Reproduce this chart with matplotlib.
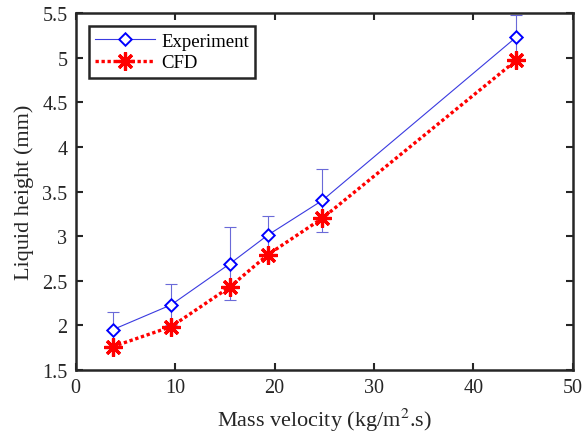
import numpy as np
import matplotlib.pyplot as plt

# -----------------------------
# Data
# -----------------------------
mass_velocity = [3.7, 9.6, 15.5, 19.3, 24.8, 44.3]
exp_height = [1.95, 2.23, 2.69, 3.01, 3.40, 5.23]
exp_err = [0.20, 0.23, 0.41, 0.22, 0.35, 0.25]
cfd_height = [1.76, 1.985, 2.43, 2.79, 3.20, 4.97]

xticks = [0, 10, 20, 30, 40, 50]
yticks = [1.5, 2, 2.5, 3, 3.5, 4, 4.5, 5, 5.5]
yticklabels = ["1.5", "2", "2.5", "3", "3.5", "4", "4.5", "5", "5.5"]

plt.rcParams['font.family'] = ['Liberation Serif', 'DejaVu Serif']
plt.rcParams['mathtext.fontset'] = 'stix'

fig = plt.figure(figsize=(5.87, 4.39), dpi=100)
ax = fig.add_axes([0.129, 0.155, 0.847, 0.813])

# Experiment with error bars
ax.errorbar(mass_velocity, exp_height, yerr=exp_err, fmt="none",
            ecolor="#6a6ad8", elinewidth=0.8, capsize=4, capthick=0.8)
ax.plot(mass_velocity, exp_height, color="#3a3ae0", linewidth=0.8,
        marker=(4, 0, 0), markersize=9, markerfacecolor="white",
        markeredgecolor="blue", markeredgewidth=1.4, label="Experiment")

# CFD
ax.plot(mass_velocity, cfd_height, color="red", linewidth=2.4, linestyle=(0, (1, 0.8)),
        marker=(8, 2, 0), markersize=13, markeredgecolor="red",
        markeredgewidth=2.3, label="CFD")

ax.set_xlim(0, 50)
ax.set_ylim(1.5, 5.5)
ax.set_xticks(xticks)
ax.set_yticks(yticks)
ax.set_yticklabels(yticklabels)
ax.tick_params(direction="in", top=True, right=True, labelsize=14.5, pad=6,
               length=5, width=1.5, colors="#262626")
for s in ax.spines.values():
    s.set_linewidth(1.8)
    s.set_color("#262626")

ax.set_xlabel("Mass velocity (kg/m$^2$.s)", fontsize=16, color="#262626", labelpad=6)
ax.set_ylabel("Liquid height (mm)", fontsize=16, color="#262626", labelpad=6)

leg = ax.legend(loc="upper left", fontsize=13.5, fancybox=False, framealpha=1,
                edgecolor="#262626", borderaxespad=0.7, handlelength=3.2,
                borderpad=0.35, labelspacing=0.22, handletextpad=0.3)
leg.get_frame().set_linewidth(1.8)

fig.savefig("out.png", dpi=100)
